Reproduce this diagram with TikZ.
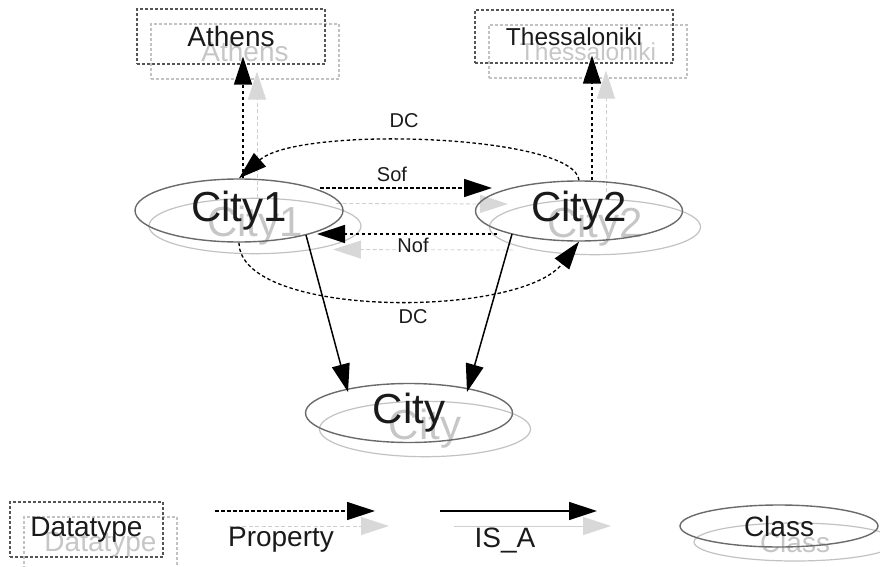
\documentclass[tikz,border=0pt]{standalone}
\usepackage{fontspec}
\setmainfont{Liberation Sans}
\usetikzlibrary{arrows.meta,shapes.geometric}

\newcommand\fsz[1]{\fontsize{#1}{#1}\selectfont}

\definecolor{inkdark}{HTML}{1A1A1A}
\definecolor{rimdark}{HTML}{555555}
\definecolor{rimellipse}{HTML}{6A6A6A}
\definecolor{shadeline}{HTML}{C2C2C2}
\definecolor{shadedash}{HTML}{CFCFCF}
\definecolor{shadetext}{HTML}{C6C6C6}
\definecolor{shadetip}{HTML}{D8D8D8}

\tikzset{
  dtype/.style={draw=rimdark, line width=1.1pt, dash pattern=on 3pt off 2pt,
                inner sep=0pt, text=inkdark},
  cls/.style={ellipse, draw=rimellipse, line width=1.4pt, inner sep=0pt, text=inkdark},
  bigtext/.style={font=\fsz{42}},
  boxtext/.style={font=\fsz{28}},
  lbl/.style={inner sep=0pt, text=inkdark, font=\fsz{20}},
  prop/.style={line width=1.3pt, dash pattern=on 3.5pt off 2.5pt,
               -{Triangle[length=28pt,width=18pt]}},
  isa/.style={line width=1.5pt, -{Triangle[length=28pt,width=18pt]}},
  ghost/.style={draw=shadeline, text=shadetext},
  ghostcls/.style={cls, ghost, line width=1.2pt},
  ghostprop/.style={draw=shadedash, line width=0.8pt, dash pattern=on 4pt off 2.5pt,
                    -{Triangle[length=28pt,width=18pt,color=shadetip]}},
  ghostisa/.style={draw=shadedash, line width=1pt,
                   -{Triangle[length=28pt,width=18pt,color=shadetip]}},
}

\begin{document}
\begin{tikzpicture}[x=1pt,y=-1pt]
\useasboundingbox (0,0) rectangle (880,567);

% ---------- drop shadow layer ----------
\begin{scope}[shift={(14,15)}]
  \node[dtype, ghost, boxtext, minimum width=188pt, minimum height=55pt] (athens-s) at (231,36.5) {Athens};
  \node[dtype, ghost, font=\fsz{24.5}, minimum width=198pt, minimum height=53pt] (thess-s) at (574,36.5) {Thessaloniki};
  \node[ghostcls, bigtext, minimum width=212pt, minimum height=55pt] (city1-s) at (241,211) {City1};
  \node[ghostcls, bigtext, minimum width=211pt, minimum height=53pt] (city2-s) at (581,212) {City2};
  \node[ghostcls, bigtext, minimum width=211pt, minimum height=52pt] (city-s) at (411,414) {City};

  \draw[ghostprop] ([xshift=12pt]athens-s.south |- city1-s.north) -- ([xshift=12pt,yshift=8pt]athens-s.south);
  \draw[ghostprop] ([xshift=18pt]thess-s.south |- city2-s.north) -- ([xshift=18pt,yshift=8pt]thess-s.south);
  \draw[ghostprop] ([xshift=81pt,yshift=22.5pt]city1-s.center) -- ([xshift=-87pt,yshift=23pt]city2-s.center);
  \draw[ghostprop] ([xshift=-82pt,yshift=-23pt]city2-s.center) -- ([xshift=78pt,yshift=-23.5pt]city1-s.center);

  % legend shadows
  \node[dtype, ghost, boxtext, minimum width=153pt, minimum height=55pt] (dtype-s) at (86.5,529.5) {Datatype};
  \coordinate (propA-s) at (215,511);
  \coordinate (propB-s) at (375,511);
  \draw[ghostprop] (propA-s) -- (propB-s);
  \coordinate (isaA-s) at (440,511);
  \coordinate (isaB-s) at (597,511);
  \draw[ghostisa] (isaA-s) -- (isaB-s);
  \node[ghostcls, boxtext, minimum width=202pt, minimum height=38pt] (class-s) at (781,527) {Class};
\end{scope}

% ---------- main layer ----------
\node[dtype, boxtext, minimum width=188pt, minimum height=55pt] (athens) at (231,36.5) {Athens};
\node[dtype, font=\fsz{24.5}, minimum width=198pt, minimum height=53pt] (thess) at (574,36.5) {Thessaloniki};
\node[cls, bigtext, minimum width=208pt, minimum height=63pt] (city1) at (239,210.5) {City1};
\node[cls, bigtext, minimum width=207pt, minimum height=60pt] (city2) at (579,211) {City2};
\node[cls, bigtext, minimum width=207pt, minimum height=59pt] (city) at (409,413) {City};

% datatype properties
\draw[prop] ([xshift=4pt]city1.north) -- ([xshift=12pt,yshift=8pt]athens.south);
\draw[prop] ([xshift=13pt]city2.north) -- ([xshift=18pt,yshift=8pt]thess.south);

% object properties between the two cities
\draw[prop] ([xshift=81pt,yshift=22.5pt]city1.center) -- ([xshift=-87pt,yshift=23pt]city2.center);
\draw[prop] ([xshift=-82pt,yshift=-23pt]city2.center) -- ([xshift=78pt,yshift=-23.5pt]city1.center);
\draw[prop] (city2.north) .. controls +(-4,-46) and +(60,-53) .. (city1.north);
\draw[prop] (city1.south) .. controls +(1,76) and +(-59,77) .. (city2.south);

\node[lbl] (dcTop) at (404,121) {DC};
\node[lbl] (sof) at (392,174) {Sof};
\node[lbl] (nof) at (413,245) {Nof};
\node[lbl] (dcBot) at (413,317) {DC};

% subclass links
\draw[isa] ([xshift=67pt,yshift=-24.5pt]city1.center) -- ([xshift=-61pt,yshift=21pt]city.center);
\draw[isa] ([xshift=-67pt,yshift=-23pt]city2.center) -- ([xshift=58pt,yshift=21pt]city.center);

% ---------- legend ----------
\node[dtype, boxtext, minimum width=153pt, minimum height=55pt] (dtype) at (86.5,529.5) {Datatype};
\coordinate (propA) at (215,511);
\coordinate (propB) at (375,511);
\draw[prop] (propA) -- (propB);
\node[inner sep=0pt, text=inkdark, boxtext] (propLbl) at (281,540) {Property};
\coordinate (isaA) at (440,511);
\coordinate (isaB) at (597,511);
\draw[isa] (isaA) -- (isaB);
\node[inner sep=0pt, text=inkdark, boxtext] (isaLbl) at (505,540) {IS\_A};
\node[cls, boxtext, minimum width=198pt, minimum height=42pt] (class) at (779,526) {Class};
\end{tikzpicture}
\end{document}
